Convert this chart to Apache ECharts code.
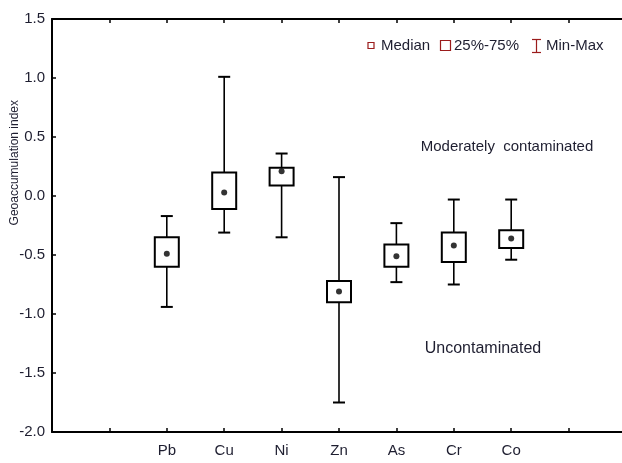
<!DOCTYPE html>
<html>
<head>
<meta charset="utf-8">
<script src="https://cdn.jsdelivr.net/npm/echarts@6/dist/echarts.min.js"></script>
<style>
html,body{margin:0;padding:0;background:#fff;}
#chart{width:622px;height:463px;}
</style>
</head>
<body>
<div id="chart"></div>
<script>
// Data
var categories = ['Pb', 'Cu', 'Ni', 'Zn', 'As', 'Cr', 'Co'];
var minVals    = [-0.94, -0.31, -0.35, -1.75, -0.73, -0.75, -0.54];
var q1Vals     = [-0.60, -0.11,  0.09, -0.90, -0.60, -0.56, -0.44];
var medVals    = [-0.49,  0.03,  0.21, -0.81, -0.51, -0.42, -0.36];
var q3Vals     = [-0.35,  0.20,  0.24, -0.72, -0.41, -0.31, -0.29];
var maxVals    = [-0.17,  1.01,  0.36,  0.16, -0.23, -0.03, -0.03];
var yTicks = [-2.0, -1.5, -1.0, -0.5, 0.0, 0.5, 1.0, 1.5];
var catOffset = 2; // first category sits at the 2nd tick of the x scale
var xMax = 10;

var FONT = "'Liberation Sans', Arial, sans-serif";
var TXT = '#1e1e30';
var RED = '#9b1c1c';

var boxData = categories.map(function (c, i) {
  return [i + catOffset, minVals[i], q1Vals[i], medVals[i], q3Vals[i], maxVals[i]];
});
var medData = categories.map(function (c, i) { return [i + catOffset, medVals[i]]; });

function renderBox(params, api) {
  var x = api.value(0);
  var pMin = api.coord([x, api.value(1)]);
  var pQ1 = api.coord([x, api.value(2)]);
  var pQ3 = api.coord([x, api.value(4)]);
  var pMax = api.coord([x, api.value(5)]);
  var bw = 24, cw = 12;
  var ls = { stroke: '#000', lineWidth: 1.6 };
  return {
    type: 'group',
    children: [
      { type: 'line', shape: { x1: pMin[0], y1: pMin[1], x2: pMax[0], y2: pMax[1] }, style: ls },
      { type: 'line', shape: { x1: pMin[0] - cw / 2, y1: pMin[1], x2: pMin[0] + cw / 2, y2: pMin[1] }, style: { stroke: '#000', lineWidth: 2 } },
      { type: 'line', shape: { x1: pMax[0] - cw / 2, y1: pMax[1], x2: pMax[0] + cw / 2, y2: pMax[1] }, style: { stroke: '#000', lineWidth: 2 } },
      { type: 'rect', shape: { x: pQ3[0] - bw / 2, y: pQ3[1], width: bw, height: pQ1[1] - pQ3[1] },
        style: { fill: '#fff', stroke: '#000', lineWidth: 2 } }
    ]
  };
}

var chart = echarts.init(document.getElementById('chart'), null, { renderer: 'canvas' });

var option = {
  backgroundColor: '#fff',
  animation: false,
  textStyle: { fontFamily: FONT },
  grid: { left: 52, top: 19, width: 574, height: 413, containLabel: false, outerBoundsMode: 'none' },
  xAxis: [
    {
      type: 'value', min: 0, max: xMax, interval: 1, position: 'bottom',
      axisLine: { show: true, onZero: false, lineStyle: { color: '#000', width: 2 } },
      axisTick: { show: true, inside: true, length: 4, lineStyle: { color: '#000', width: 1.5 } },
      splitLine: { show: false },
      axisLabel: {
        margin: 11, color: TXT, fontSize: 15, fontFamily: FONT,
        showMinLabel: true, showMaxLabel: true,
        formatter: function (v) {
          var r = Math.round(v);
          var i = r - catOffset;
          if (Math.abs(v - r) < 1e-6 && i >= 0 && i < categories.length) return categories[i];
          return '';
        }
      }
    },
    {
      type: 'value', min: 0, max: xMax, interval: 1, position: 'top',
      axisLine: { show: true, onZero: false, lineStyle: { color: '#000', width: 2 } },
      axisTick: { show: true, inside: true, length: 4, lineStyle: { color: '#000', width: 1.5 } },
      splitLine: { show: false },
      axisLabel: { show: false }
    }
  ],
  yAxis: {
    type: 'value', min: yTicks[0], max: yTicks[yTicks.length - 1], interval: 0.5,
    axisLine: { show: true, onZero: false, lineStyle: { color: '#000', width: 2 } },
    axisTick: { show: true, inside: true, length: 4, lineStyle: { color: '#000', width: 1.5 } },
    splitLine: { show: false },
    axisLabel: {
      margin: 7, color: TXT, fontSize: 15, fontFamily: FONT,
      formatter: function (v) { return v.toFixed(1); }
    }
  },
  graphic: [
    { type: 'text', left: 9, top: 100, rotation: Math.PI / 2,
      style: { text: 'Geoaccumulation index', x: 0, y: 0, font: '12px ' + FONT, fill: TXT } },
    { type: 'text', x: 507, y: 147, style: { text: 'Moderately  contaminated', font: '15px ' + FONT, fill: TXT, textAlign: 'center', textVerticalAlign: 'middle' } },
    { type: 'text', x: 483, y: 349, style: { text: 'Uncontaminated', font: '16px ' + FONT, fill: TXT, textAlign: 'center', textVerticalAlign: 'middle' } },
    // legend
    { type: 'rect', shape: { x: 368, y: 42.5, width: 6, height: 6 }, style: { fill: '#fff', stroke: RED, lineWidth: 1.2 } },
    { type: 'text', x: 381, y: 46, style: { text: 'Median', font: '15px ' + FONT, fill: TXT, textVerticalAlign: 'middle' } },
    { type: 'rect', shape: { x: 440.5, y: 40.5, width: 10, height: 10 }, style: { fill: '#fff', stroke: RED, lineWidth: 1.2 } },
    { type: 'text', x: 454, y: 46, style: { text: '25%-75%', font: '15px ' + FONT, fill: TXT, textVerticalAlign: 'middle' } },
    { type: 'line', shape: { x1: 536.5, y1: 39.5, x2: 536.5, y2: 52.5 }, style: { stroke: RED, lineWidth: 1.2 } },
    { type: 'line', shape: { x1: 532, y1: 39.5, x2: 541, y2: 39.5 }, style: { stroke: RED, lineWidth: 1.2 } },
    { type: 'line', shape: { x1: 532, y1: 52.5, x2: 541, y2: 52.5 }, style: { stroke: RED, lineWidth: 1.2 } },
    { type: 'text', x: 546, y: 46, style: { text: 'Min-Max', font: '15px ' + FONT, fill: TXT, textVerticalAlign: 'middle' } }
  ],
  series: [
    {
      type: 'custom', name: 'Box', xAxisIndex: 0, yAxisIndex: 0,
      renderItem: renderBox,
      encode: { x: 0, y: [1, 2, 3, 4, 5] },
      data: boxData, z: 2
    },
    {
      type: 'scatter', name: 'Median', xAxisIndex: 0, yAxisIndex: 0,
      symbol: 'circle', symbolSize: 6,
      itemStyle: { color: '#000' },
      data: medData, z: 5
    }
  ]
};
chart.setOption(option);
</script>
</body>
</html>
